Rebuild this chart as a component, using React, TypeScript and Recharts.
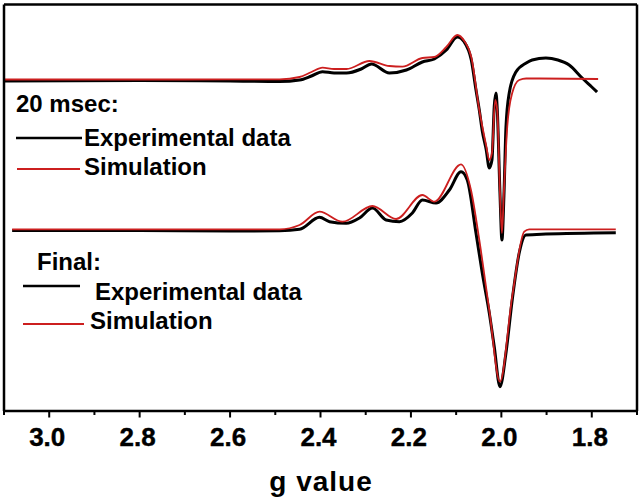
import React from 'react'
import { LineChart, Line, XAxis, YAxis } from 'recharts'

// g value axis (reversed), ticks every 0.1, labels every 0.2
const gTicks = [1.7, 1.8, 1.9, 2.0, 2.1, 2.2, 2.3, 2.4, 2.5, 2.6, 2.7, 2.8, 2.9, 3.0, 3.1]

// 20 msec spectrum, offset up (arbitrary units)
const exp20 = [
  { g: 3.098, v: 330 }, { g: 2.8, v: 330.5 }, { g: 2.6, v: 330 }, { g: 2.4905, v: 329.5 },
  { g: 2.4463, v: 331 }, { g: 2.42, v: 335 }, { g: 2.3955, v: 339.3 }, { g: 2.37, v: 338 },
  { g: 2.3425, v: 338 }, { g: 2.31, v: 342 }, { g: 2.2873, v: 347 }, { g: 2.2476, v: 338 },
  { g: 2.21, v: 341 }, { g: 2.1747, v: 349 }, { g: 2.1482, v: 352 }, { g: 2.1217, v: 361 },
  { g: 2.0974, v: 374 }, { g: 2.082, v: 369 }, { g: 2.0665, v: 351 }, { g: 2.0561, v: 321 },
  { g: 2.0488, v: 301 }, { g: 2.0422, v: 280 }, { g: 2.0334, v: 261 }, { g: 2.0267, v: 243 },
  { g: 2.0208, v: 251 }, { g: 2.0157, v: 305 }, { g: 2.0119, v: 318 }, { g: 2.009, v: 301 },
  { g: 2.0031, v: 218 }, { g: 1.9987, v: 171 }, { g: 1.9943, v: 215 }, { g: 1.9898, v: 284 },
  { g: 1.9826, v: 318 }, { g: 1.9678, v: 339 }, { g: 1.945, v: 348 }, { g: 1.9318, v: 351 },
  { g: 1.9015, v: 353 }, { g: 1.875, v: 351 }, { g: 1.85, v: 346 }, { g: 1.8213, v: 333 },
  { g: 1.8, v: 324 }, { g: 1.7882, v: 319 },
]

const sim20 = [
  { g: 3.098, v: 331.5 }, { g: 2.7, v: 331.5 }, { g: 2.4905, v: 331.7 }, { g: 2.4463, v: 334 },
  { g: 2.42, v: 339 }, { g: 2.3955, v: 343.3 }, { g: 2.37, v: 342 }, { g: 2.3425, v: 342 },
  { g: 2.2917, v: 350 }, { g: 2.2476, v: 345 }, { g: 2.2189, v: 344.3 }, { g: 2.1747, v: 353 },
  { g: 2.1482, v: 354 }, { g: 2.1217, v: 364 }, { g: 2.0974, v: 376 }, { g: 2.082, v: 370 },
  { g: 2.0665, v: 354 }, { g: 2.0488, v: 301 }, { g: 2.0334, v: 265 }, { g: 2.0267, v: 251 },
  { g: 2.0208, v: 258 }, { g: 2.0135, v: 311 }, { g: 2.009, v: 300 }, { g: 2.0031, v: 218 },
  { g: 1.9987, v: 178 }, { g: 1.9943, v: 220 }, { g: 1.987, v: 284 }, { g: 1.976, v: 318 },
  { g: 1.9605, v: 331 }, { g: 1.945, v: 332.5 }, { g: 1.786, v: 332 },
]

// Final spectrum
const expFinal = [
  { g: 3.082, v: 180.5 }, { g: 2.8, v: 180.5 }, { g: 2.6, v: 180 }, { g: 2.4905, v: 180.3 },
  { g: 2.4463, v: 181.7 }, { g: 2.4021, v: 193.7 }, { g: 2.3801, v: 189.3 }, { g: 2.3432, v: 187.7 },
  { g: 2.3138, v: 193 }, { g: 2.2851, v: 203 }, { g: 2.2549, v: 191 }, { g: 2.2255, v: 189.3 },
  { g: 2.1968, v: 198 }, { g: 2.1747, v: 211 }, { g: 2.1444, v: 208 }, { g: 2.115, v: 221 },
  { g: 2.0892, v: 239.3 }, { g: 2.0754, v: 231 }, { g: 2.0561, v: 178 }, { g: 2.0422, v: 138 },
  { g: 2.0267, v: 98 }, { g: 2.0157, v: 64.3 }, { g: 2.0031, v: 24.3 }, { g: 1.9898, v: 58 },
  { g: 1.976, v: 111 }, { g: 1.9605, v: 158 }, { g: 1.9457, v: 176 }, { g: 1.9015, v: 177 },
  { g: 1.7469, v: 178.3 },
]

const simFinal = [
  { g: 3.082, v: 181.7 }, { g: 2.7, v: 181.7 }, { g: 2.4905, v: 181.7 }, { g: 2.4463, v: 186 },
  { g: 2.4021, v: 199.3 }, { g: 2.3514, v: 189.3 }, { g: 2.2851, v: 205 }, { g: 2.2328, v: 192 },
  { g: 2.1747, v: 216 }, { g: 2.1482, v: 209.3 }, { g: 2.0892, v: 246.7 }, { g: 2.0672, v: 221 },
  { g: 2.0488, v: 171 }, { g: 2.0267, v: 101 }, { g: 2.0031, v: 29.3 }, { g: 1.976, v: 114.3 },
  { g: 1.9494, v: 179.3 }, { g: 1.9384, v: 181.7 }, { g: 1.7469, v: 181.7 },
]

const FONT = '"Liberation Sans", Arial, sans-serif'
const RED = '#cc1f1f'
const frame = { stroke: '#000', strokeWidth: 2.5 }

const GTick = (props: any) => {
  const { x, y, payload } = props
  const major = Math.round(payload.value * 10) % 2 === 0
  return (
    <g>
      <line x1={x} x2={x} y1={y} y2={y + (major ? 6.5 : 4)} stroke="#000" strokeWidth={2} />
      {major && (
        <text x={x - 2} y={y + 35} textAnchor="middle" fontFamily={FONT} fontWeight={700} fontSize={26} fill="#000" stroke="#000" strokeWidth={0.4}>
          {payload.value.toFixed(1)}
        </text>
      )}
    </g>
  )
}

const legendText = { fontFamily: FONT, fontWeight: 700, fontSize: 24, fill: '#000' }

export default function App() {
  return (
    <div style={{ position: 'absolute', left: 0, top: 0, width: 642, height: 504, background: '#fff' }}>
      <LineChart width={642} height={504} margin={{ top: 3.5, right: 4, bottom: 0, left: 3 }}>
        <XAxis
          type="number"
          dataKey="g"
          domain={[1.7, 3.1]}
          reversed
          ticks={gTicks}
          interval={0}
          tick={<GTick />}
          tickLine={false}
          tickSize={0}
          tickMargin={0}
          height={93}
          axisLine={frame}
          allowDataOverflow
        />
        <XAxis xAxisId="top" orientation="top" type="number" domain={[1.7, 3.1]} height={1} tick={false} tickLine={false} axisLine={frame} />
        <YAxis type="number" domain={[0, 406.5]} width={1} tick={false} tickLine={false} axisLine={frame} />
        <YAxis yAxisId="right" orientation="right" type="number" domain={[0, 406.5]} width={1} tick={false} tickLine={false} axisLine={frame} />

        <Line data={exp20} dataKey="v" type="monotone" stroke="#000" strokeWidth={3} dot={false} isAnimationActive={false} />
        <Line data={expFinal} dataKey="v" type="monotone" stroke="#000" strokeWidth={3} dot={false} isAnimationActive={false} />
        <Line data={sim20} dataKey="v" type="monotone" stroke={RED} strokeWidth={1.8} dot={false} isAnimationActive={false} />
        <Line data={simFinal} dataKey="v" type="monotone" stroke={RED} strokeWidth={1.8} dot={false} isAnimationActive={false} />

        <text x={16} y={112} {...legendText}>20 msec:</text>
        <line x1={16} x2={82} y1={138} y2={138} stroke="#000" strokeWidth={2.5} />
        <text x={84} y={146} {...legendText}>Experimental data</text>
        <line x1={17} x2={80} y1={169} y2={169} stroke={RED} strokeWidth={1.8} />
        <text x={84} y={175} {...legendText}>Simulation</text>

        <text x={37} y={270} {...legendText}>Final:</text>
        <line x1={23} x2={80} y1={286} y2={286} stroke="#000" strokeWidth={2.5} />
        <text x={95} y={300} {...legendText}>Experimental data</text>
        <line x1={23} x2={84} y1={324} y2={324} stroke={RED} strokeWidth={1.8} />
        <text x={90} y={329} {...legendText}>Simulation</text>

        <text x={321} y={491} textAnchor="middle" fontFamily={FONT} fontWeight={700} fontSize={28} letterSpacing={1} fill="#000">g value</text>
      </LineChart>
    </div>
  )
}
